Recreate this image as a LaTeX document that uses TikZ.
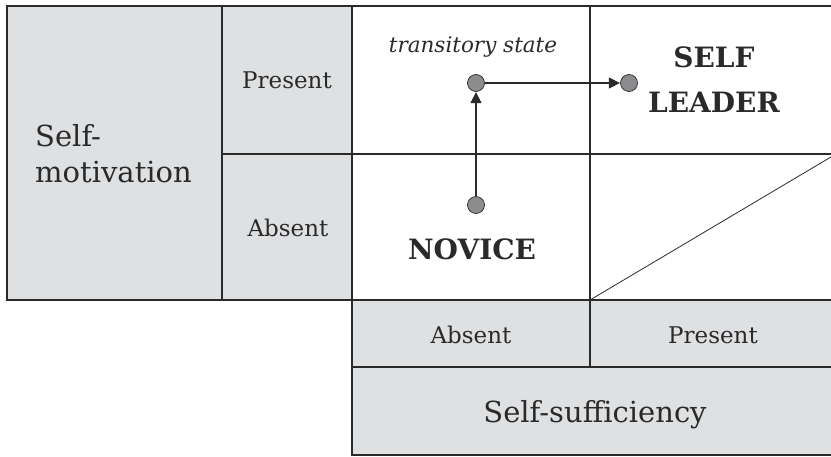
\documentclass[tikz,border=0pt]{standalone}
\usepackage{fontspec}
\setmainfont{DejaVu Serif}
\usetikzlibrary{arrows.meta}
\definecolor{cellgray}{HTML}{DFE0E2}
\definecolor{linecol}{HTML}{2A2A2A}
\definecolor{dotgray}{HTML}{8C8C8E}
\tikzset{
  thickline/.style={draw=linecol, line width=2.6pt},
  thinline/.style={draw=linecol, line width=1.1pt},
  lbl/.style={anchor=base, inner sep=0pt, text=linecol},
  dot/.style={circle, fill=dotgray, draw=linecol, line width=0.7pt, minimum size=17pt, inner sep=0pt},
  flow/.style={draw=linecol, line width=1.4pt, -{Triangle[length=11pt,width=11pt]}, shorten >=0.3pt}
}
\begin{document}
\begin{tikzpicture}[x=1pt, y=-1pt]
\useasboundingbox (0,0) rectangle (831,457);
\clip (0,0) rectangle (831,457);
% fills
\fill[cellgray] (7,6) rectangle (352,300);
\fill[cellgray] (352,300) rectangle (840,455);
\fill[white] (352,6) rectangle (840,300);
% thin lines
\draw[thinline] (222,6) -- (222,300);
\draw[thinline] (222,154) -- (840,154);
\draw[thinline] (590,6) -- (590,367);
\draw[thinline] (352,367) -- (840,367);
\draw[thinline, line width=0.8pt] (590,300) -- (836,154);
% thick lines
\draw[thickline] (840,6) -- (7,6) -- (7,300) -- (840,300);
\draw[thickline] (352,6) -- (352,455) -- (840,455);
% labels
\node[lbl, font=\fontsize{29}{29}\selectfont, anchor=base west] (sm1) at (35,147) {Self-};
\node[lbl, font=\fontsize{29}{29}\selectfont, anchor=base west] (sm2) at (35,183) {motivation};
\node[lbl, font=\fontsize{23}{23}\selectfont] (lpres) at (287,89) {Present};
\node[lbl, font=\fontsize{23}{23}\selectfont] (labs) at (288,237) {Absent};
\node[lbl, font=\fontsize{23}{23}\selectfont] (babs) at (471,344) {Absent};
\node[lbl, font=\fontsize{23}{23}\selectfont] (bpres) at (713,344) {Present};
\node[lbl, font=\fontsize{29}{29}\selectfont] (ss) at (595,423) {Self-sufficiency};
\node[lbl, font=\fontsize{21.5}{21.5}\selectfont\itshape] (ts) at (473,53) {transitory state};
\node[lbl, font=\fontsize{28}{28}\selectfont\bfseries] (sl1) at (714,68) {SELF};
\node[lbl, font=\fontsize{28}{28}\selectfont\bfseries] (sl2) at (714,113) {LEADER};
\node[lbl, font=\fontsize{28}{28}\selectfont\bfseries] (nov) at (472,260) {NOVICE};
% dots and arrows
\node[dot] (dtrans) at (476,83) {};
\node[dot] (dlead) at (629,83) {};
\node[dot] (dnov) at (476,205) {};
\draw[flow] (dnov) -- (dtrans);
\draw[flow] (dtrans) -- (dlead);
\end{tikzpicture}
\end{document}
